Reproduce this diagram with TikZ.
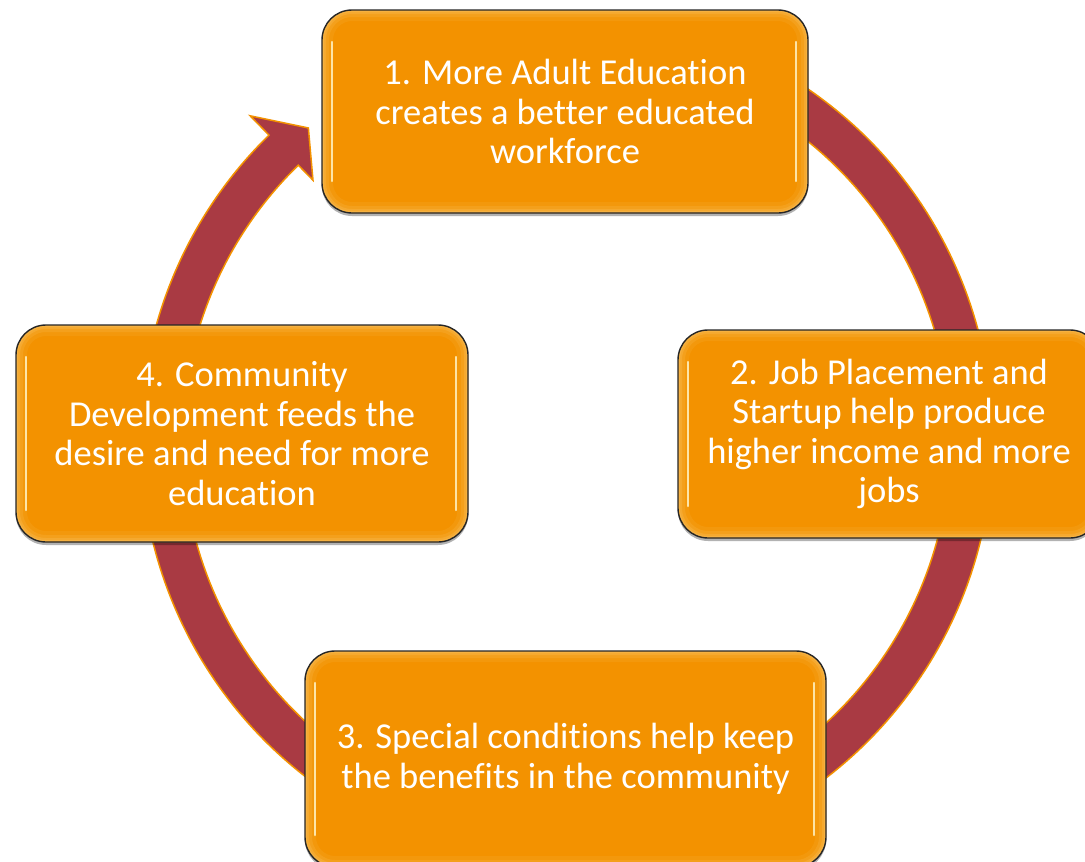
\documentclass[tikz,border=0pt]{standalone}
\usepackage{fontspec}
\setmainfont{Carlito}[Ligatures=NoCommon]
\usetikzlibrary{shadows}
\definecolor{boxorange}{HTML}{F39200}
\definecolor{boxlight}{HTML}{FBC56A}
\definecolor{ringred}{HTML}{A93A43}
\definecolor{gleam}{HTML}{FFF3C4}

\tikzset{
  stepbox/.style={
    draw=black!85, line width=1.4pt, fill=boxorange, rounded corners=30pt,
    inner sep=0pt, align=center, text=white,
    font=\fontsize{36.5}{39.5}\selectfont,
    drop shadow={shadow xshift=0pt, shadow yshift=-3pt, opacity=0.3, fill=black},
    path picture={
      \foreach \w/\o in {22/0.12, 14/0.18, 8/0.25, 4/0.3}{
        \draw[boxlight, line width=\w pt, opacity=\o, rounded corners=30pt]
          (path picture bounding box.south west) rectangle (path picture bounding box.north east);
      }
      \draw[gleam, line width=2.5pt, opacity=0.85, line cap=round]
        ([shift={(10pt,32pt)}]path picture bounding box.south west) --
        ([shift={(10pt,-32pt)}]path picture bounding box.north west);
      \draw[gleam, line width=2.5pt, opacity=0.85, line cap=round]
        ([shift={(-12pt,32pt)}]path picture bounding box.south east) --
        ([shift={(-12pt,-32pt)}]path picture bounding box.north east);
    }
  },
  ringband/.style={fill=ringred, draw=boxorange, line width=1.5pt, line join=miter}
}

\begin{document}
\begin{tikzpicture}[x=1pt, y=1pt]
  \useasboundingbox (0,0) rectangle (1085,-862);
  \clip (0,0) rectangle (1085,-862);
  \fill[white] (0,0) rectangle (1085,-862);

  % circular arrow running clockwise behind the four steps
  \coordinate (C) at (566.5,-440);
  \begin{scope}[shift={(C)}]
    \path[ringband]
      (60:426pt) arc[start angle=60, end angle=-225.7, radius=426pt]
      -- (-225.7:453pt) -- (-230.4:405pt) -- (-225.7:363pt) -- (-225.7:384pt)
      arc[start angle=-225.7, end angle=60, radius=384pt] -- cycle;
  \end{scope}

  % the four steps of the cycle
  \node[stepbox, minimum width=486pt, minimum height=203pt] (edu) at (565,-111.5)
    {1. More Adult Education\\creates a better educated\\workforce};
  \node[stepbox, minimum width=422pt, minimum height=208pt] (job) at (889,-434)
    {2. Job Placement and\\Startup help produce\\higher income and more\\jobs};
  \node[stepbox, minimum width=521pt, minimum height=216pt] (cond) at (565.5,-759)
    {3. Special conditions help keep\\the benefits in the community};
  \node[stepbox, minimum width=452pt, minimum height=217pt] (comm) at (242,-433.5)
    {4. Community\\Development feeds the\\desire and need for more\\education};
\end{tikzpicture}
\end{document}
